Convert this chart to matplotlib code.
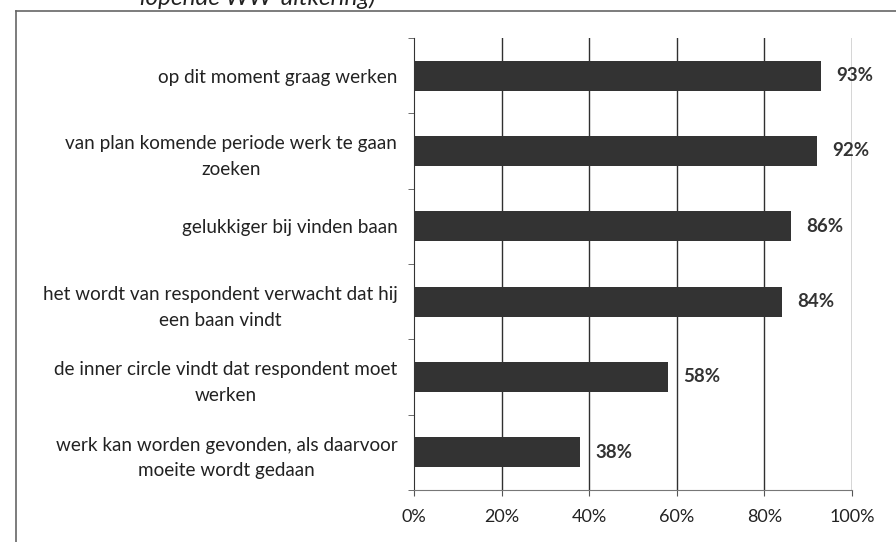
import matplotlib
matplotlib.use("Agg")
import matplotlib.pyplot as plt
from matplotlib.lines import Line2D
import numpy as np

categories = [
    "op dit moment graag werken",
    "van plan komende periode werk te gaan\nzoeken",
    "gelukkiger bij vinden baan",
    "het wordt van respondent verwacht dat hij\neen baan vindt",
    "de inner circle vindt dat respondent moet\nwerken",
    "werk kan worden gevonden, als daarvoor\nmoeite wordt gedaan",
]
values = [93, 92, 86, 84, 58, 38]
xticks = [0, 20, 40, 60, 80, 100]
xtick_labels = ["0%", "20%", "40%", "60%", "80%", "100%"]
title_text = "lopende WW-uitkering)"

plt.rcParams['font.family'] = ['Lato', 'DejaVu Sans']

W, H = 896, 542
fig = plt.figure(figsize=(W / 100, H / 100), dpi=100)
fig.patch.set_facecolor("white")

ax = fig.add_axes([414 / W, 1 - 490 / H, (852 - 414) / W, (490 - 38) / H])
n = len(categories)
ypos = np.arange(n)
ax.barh(ypos, values, height=0.4, color="#333333", zorder=3)
ax.set_ylim(n - 0.5, -0.5)
ax.set_xlim(0, 100)

for x in xticks[1:]:
    ax.axvline(x, color="#303030", lw=1.0, zorder=1)

ax.set_xticks(xticks)
ax.set_xticklabels(xtick_labels, fontsize=13, color="#222222")
ax.tick_params(axis="x", length=4, direction="out", color="#555555", pad=10)

ax.set_yticks(ypos)
ax.set_yticklabels(categories, fontsize=13.6, color="#222222",
                   multialignment="center", linespacing=1.6)
ax.tick_params(axis="y", length=0, pad=12)
ax.set_yticks(np.arange(-0.5, n, 1), minor=True)
ax.tick_params(axis="y", which="minor", length=4, color="#555555")

for s in ["top", "right"]:
    ax.spines[s].set_visible(False)
ax.spines["left"].set_color("#333333")
ax.spines["bottom"].set_color("#777777")

for y, v in zip(ypos, values):
    ax.annotate(f"{v}%", (v, y), xytext=(11, 0), textcoords="offset points",
                va="center", ha="left", fontsize=13.5, fontweight="bold", color="#333333")

# outer frame of the chart area
fig.add_artist(Line2D([16 / W, 1.0], [1 - 11 / H, 1 - 11 / H], color="#666666", lw=1.2,
                      transform=fig.transFigure))
fig.add_artist(Line2D([16 / W, 16 / W], [0, 1 - 11 / H], color="#666666", lw=1.2,
                      transform=fig.transFigure))

fig.text(258 / W, 1 - 5 / H, title_text, ha="center", va="baseline", fontsize=17.5,
         style="italic", color="#222222")

fig.savefig("out.png", dpi=100)
